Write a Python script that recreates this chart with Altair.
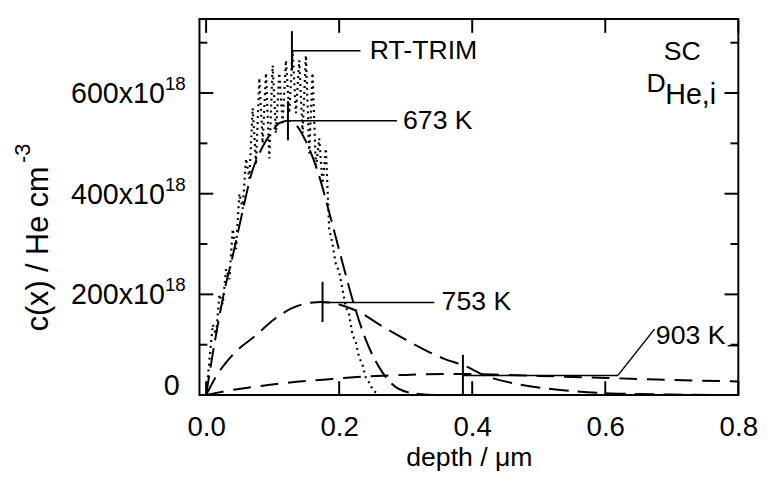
import altair as alt
import pandas as pd

FONT = "Liberation Sans"

# ---- data (depth in um, concentration in 1e18 He/cm^3) ----
trim_x = [0.000, 0.005, 0.010, 0.015, 0.020, 0.025, 0.030, 0.035, 0.040, 0.045,
          0.050, 0.055, 0.060, 0.065, 0.070, 0.075, 0.080, 0.085, 0.090, 0.095,
          0.100, 0.105, 0.110, 0.115, 0.120, 0.125, 0.130, 0.135, 0.140, 0.145,
          0.150, 0.155, 0.160, 0.165, 0.170, 0.175, 0.180, 0.185, 0.190, 0.195,
          0.200, 0.205, 0.210, 0.215, 0.220, 0.225, 0.230, 0.235, 0.240, 0.245,
          0.250, 0.255, 0.260]
trim_y = [0, 70, 140, 120, 200, 180, 250, 230, 330, 290,
          400, 370, 470, 430, 570, 460, 630, 500, 640, 470,
          655, 520, 640, 540, 665, 560, 685, 560, 665, 520,
          675, 480, 640, 450, 510, 420, 490, 330, 300, 260,
          245, 210, 175, 160, 120, 105, 75, 60, 35, 25,
          12, 5, 0]

k673_x = [0.0, 0.012, 0.027, 0.041, 0.056, 0.068, 0.080, 0.090, 0.100, 0.110,
          0.123, 0.135, 0.150, 0.169, 0.187, 0.205, 0.220, 0.240, 0.264, 0.290,
          0.320, 0.350, 0.400]
k673_y = [0, 98, 204, 282, 372, 439, 480, 505, 525, 540,
          545, 537, 504, 439, 353, 263, 190, 110, 47, 12,
          2, 0, 0]

k753_x = [0.0, 0.016, 0.040, 0.076, 0.100, 0.130, 0.155, 0.175, 0.200, 0.230,
          0.264, 0.300, 0.358, 0.387, 0.422, 0.460, 0.506, 0.550, 0.595, 0.650,
          0.700, 0.800]
k753_y = [0, 39, 80, 120, 148, 173, 183, 185, 180, 165,
          137, 110, 72, 59, 37, 24, 14, 8, 4, 2,
          1, 0]

k903_x = [0.0, 0.030, 0.060, 0.120, 0.180, 0.240, 0.300, 0.380, 0.450, 0.500,
          0.600, 0.700, 0.800]
k903_y = [0, 8, 14, 24, 31, 37, 40, 42, 40, 38,
          34, 30, 27]

# tag annotations: marker position, marker span, leader end, label
tag_label = ["RT-TRIM", "673 K", "753 K"]
tag_x = [0.129, 0.123, 0.175]
tag_y = [684, 545, 184]
tag_lo = [645, 506, 145]
tag_hi = [723, 584, 225]
tag_end = [0.232, 0.287, 0.343]
tag_text_x = [0.246, 0.296, 0.354]

t903_x, t903_lo, t903_hi = 0.386, 2, 80
t903_y, t903_bend = 39, 0.619
t903_end_x, t903_end_y = 0.674, 131
t903_text_x, t903_text_y = 0.676, 118
t903_under_x, t903_under_x2, t903_under_y = 0.784, 0.800, 98

x_ticks = [0.0, 0.2, 0.4, 0.6, 0.8]
y_major = [0, 200, 400, 600]
y_minor = [100, 300, 500, 700]
y_label_main = ["0", "200x10", "400x10", "600x10"]
y_label_sup = ["", "18", "18", "18"]

W, H = 546, 381
xs = alt.Scale(domain=[-0.01, 0.8], nice=False, zero=False)
ys = alt.Scale(domain=[0, 747], nice=False, zero=False)


def X(field="x"):
    return alt.X(f"{field}:Q", scale=xs,
                 axis=alt.Axis(values=x_ticks, format=".1f", ticks=False, tickSize=0,
                               domain=False, grid=False, labelFontSize=28, labelFont=FONT,
                               labelColor="black", labelPadding=19, labelFlush=False,
                               title="depth / μm", titleFont=FONT, titleFontSize=27,
                               titleFontWeight="normal", titleColor="black", titlePadding=3))


def Y(field="y"):
    return alt.Y(f"{field}:Q", scale=ys, axis=None)


def curve(xv, yv, dash, width=2.0, interp="linear"):
    df = pd.DataFrame({"x": xv, "y": yv})
    return alt.Chart(df).mark_line(color="black", strokeWidth=width, strokeDash=dash,
                                   strokeCap="butt", clip=True, interpolate=interp).encode(
        x=X(), y=Y())


trim = curve(trim_x, trim_y, [2, 4], 2.2)
l673 = curve(k673_x, k673_y, [20, 8], interp="monotone")
l753 = curve(k753_x, k753_y, [20, 9], interp="monotone")
l903 = curve(k903_x, k903_y, [18, 10], interp="monotone")

tags = pd.DataFrame({"label": tag_label, "x": tag_x, "y": tag_y, "lo": tag_lo,
                     "hi": tag_hi, "end": tag_end, "tx": tag_text_x})
tag_marks = alt.Chart(tags).mark_rule(color="black", strokeWidth=2).encode(
    x=X(), y=Y("lo"), y2="hi:Q")
tag_leads = alt.Chart(tags).mark_rule(color="black", strokeWidth=1.5).encode(
    x=X(), x2="end:Q", y=Y())
tag_text = alt.Chart(tags).mark_text(align="left", baseline="middle", fontSize=27,
                                     font=FONT, color="black").encode(
    x=X("tx"), y=Y(), text="label:N")

t903 = pd.DataFrame({"x": [t903_x], "lo": [t903_lo], "hi": [t903_hi], "y": [t903_y],
                     "bend": [t903_bend], "ex": [t903_end_x], "ey": [t903_end_y],
                     "tx": [t903_text_x], "ty": [t903_text_y], "label": ["903 K"],
                     "ux": [t903_under_x], "ux2": [t903_under_x2], "uy": [t903_under_y]})
m903 = alt.Chart(t903).mark_rule(color="black", strokeWidth=2).encode(
    x=X(), y=Y("lo"), y2="hi:Q")
h903 = alt.Chart(t903).mark_rule(color="black", strokeWidth=1.5).encode(
    x=X(), x2="bend:Q", y=Y())
d903 = alt.Chart(t903).mark_rule(color="black", strokeWidth=1.5).encode(
    x=X("bend"), x2="ex:Q", y=Y(), y2="ey:Q")
u903 = alt.Chart(t903).mark_rule(color="black", strokeWidth=1.5).encode(
    x=X("ux"), x2="ux2:Q", y=Y("uy"))
txt903 = alt.Chart(t903).mark_text(align="left", baseline="middle", fontSize=27,
                                   font=FONT, color="black").encode(
    x=X("tx"), y=Y("ty"), text="label:N")

# inward ticks
ymaj = pd.DataFrame({"y": y_major, "m": y_label_main, "s": y_label_sup})
ymin = pd.DataFrame({"y": y_minor})
xt = pd.DataFrame({"x": x_ticks})
tick_l = alt.Chart(ymaj).mark_rule(color="black", strokeWidth=2).encode(
    x=alt.value(0), x2=alt.value(14), y=Y())
tick_r = alt.Chart(ymaj).mark_rule(color="black", strokeWidth=2).encode(
    x=alt.value(W - 14), x2=alt.value(W), y=Y())
mtick_l = alt.Chart(ymin).mark_rule(color="black", strokeWidth=2).encode(
    x=alt.value(0), x2=alt.value(8), y=Y())
mtick_r = alt.Chart(ymin).mark_rule(color="black", strokeWidth=2).encode(
    x=alt.value(W - 8), x2=alt.value(W), y=Y())
tick_b = alt.Chart(xt).mark_rule(color="black", strokeWidth=2).encode(
    x=X(), y=alt.value(H - 14), y2=alt.value(H))
tick_t = alt.Chart(xt).mark_rule(color="black", strokeWidth=2).encode(
    x=X(), y=alt.value(0), y2=alt.value(14))

# y tick labels with superscript
ylab = alt.Chart(ymaj[ymaj.y > 0]).mark_text(align="right", baseline="middle", fontSize=29,
                                              font=FONT, color="black", dy=1).encode(
    x=alt.value(-35), y=Y(), text="m:N")
ysup = alt.Chart(ymaj[ymaj.y > 0]).mark_text(align="left", baseline="middle", fontSize=19,
                                              font=FONT, color="black", dy=-9).encode(
    x=alt.value(-35), y=Y(), text="s:N")
yzero = alt.Chart(ymaj[ymaj.y == 0]).mark_text(align="right", baseline="middle", fontSize=29,
                                                font=FONT, color="black", dy=-9).encode(
    x=alt.value(-20), y=Y(), text="m:N")

# y title
ytitle = alt.Chart(pd.DataFrame({"t": ["c(x) / He cm"]})).mark_text(
    angle=270, align="center", baseline="middle", fontSize=31, font=FONT, color="black").encode(
    x=alt.value(-162), y=alt.value(233), text="t:N")
ytsup = alt.Chart(pd.DataFrame({"t": ["-3"]})).mark_text(
    angle=270, align="center", baseline="middle", fontSize=22, font=FONT, color="black").encode(
    x=alt.value(-179), y=alt.value(136), text="t:N")

# SC / D_He,i
sc = alt.Chart(pd.DataFrame({"t": ["SC"]})).mark_text(
    align="right", baseline="middle", fontSize=27, font=FONT, color="black").encode(
    x=alt.value(508), y=alt.value(34), text="t:N")
dd = alt.Chart(pd.DataFrame({"t": ["D"]})).mark_text(
    align="left", baseline="middle", fontSize=27, font=FONT, color="black").encode(
    x=alt.value(453), y=alt.value(66), text="t:N")
dsub = alt.Chart(pd.DataFrame({"t": ["He,i"]})).mark_text(
    align="left", baseline="middle", fontSize=29, font=FONT, color="black").encode(
    x=alt.value(472), y=alt.value(77), text="t:N")

chart = alt.layer(
    tick_l, tick_r, mtick_l, mtick_r, tick_b, tick_t,
    trim, l673, l753, l903,
    tag_marks, tag_leads, tag_text, m903, h903, d903, u903, txt903,
    ylab, ysup, yzero, ytitle, ytsup, sc, dd, dsub,
).properties(
    width=W, height=H,
    autosize=alt.AutoSizeParams(type="none"),
    padding={"left": 194, "top": 8, "right": 24, "bottom": 90},
    background="white",
).configure_view(stroke="black", strokeWidth=2)

chart.save("out.html", embed_options={"renderer": "svg", "actions": False})
